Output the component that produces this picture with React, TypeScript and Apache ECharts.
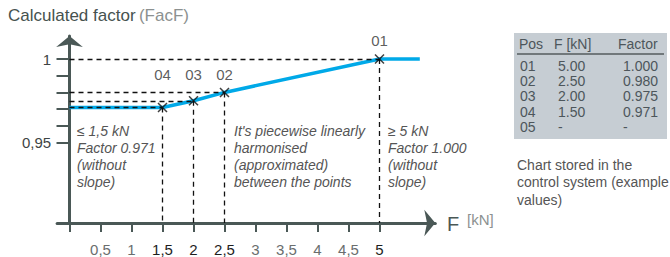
import React, { useEffect, useRef } from "react";
import * as echarts from "echarts";

// ---- data ----
const posNames = ["01", "02", "03", "04", "05"];
const forces = [5.0, 2.5, 2.0, 1.5]; // kN, for points 01..04
const factors = [1.0, 0.98, 0.975, 0.971];
const curveF = [0, 1.5, 2, 2.5, 5, 5.65];
const curveFactor = [0.971, 0.971, 0.975, 0.98, 1.0, 1.0];
const xTickValues = [0, 0.5, 1, 1.5, 2, 2.5, 3, 3.5, 4, 4.5, 5];
const xLabelValues = [0.5, 1, 1.5, 2, 2.5, 3, 3.5, 4, 4.5, 5];
const yTickValues = [0.95, 0.96, 0.97, 0.98, 0.99, 1.0];
const yLabelValues = [0.95, 1.0];
const labelDistances = [4, 3.5, 11.5, 18.5];

const AXIS = "#4a5856";
const FONT = "'Liberation Sans', Arial, sans-serif";
const Y_MIN = 0.9018;
const Y_MAX = 1.0138;

export default function App() {
  const ref = useRef<HTMLDivElement>(null);
  useEffect(() => {
    if (!ref.current) return;
    const chart = echarts.init(ref.current, null, { renderer: "svg" });
    const comma = (v: number) => String(v).replace(".", ",");

    const markData: any[] = [];
    forces.forEach((f, i) => {
      markData.push([{ coord: [0, factors[i]] }, { coord: [f, factors[i]] }]);
      markData.push([{ coord: [f, factors[i]] }, { coord: [f, Y_MIN] }]);
    });

    const tableRows = posNames.map((p, i) => ({
      pos: p,
      f: i < forces.length ? forces[i].toFixed(2) : "-",
      fac: i < factors.length ? factors[i].toFixed(3) : "-",
    }));

    const TABLE_TXT = "#4d565b";
    const tableTexts: any[] = [];
    tableRows.forEach((r, i) => {
      const top = 59 + i * 15.2;
      const st = { font: `14px ${FONT}`, fill: TABLE_TXT };
      tableTexts.push({ type: "text", left: 520, top, style: { ...st, text: r.pos } });
      tableTexts.push({ type: "text", left: 558, top, style: { ...st, text: r.f } });
      tableTexts.push({ type: "text", left: 623, top, style: { ...st, text: r.fac } });
    });

    const annStyle = { font: `italic 14px ${FONT}`, fill: "#555", lineHeight: 17 };

    chart.setOption({
      animation: false,
      grid: { left: 57.1, right: 234.7, top: 36, bottom: 34 },
      xAxis: {
        type: "value",
        min: -0.2,
        max: 5.9,
        splitLine: { show: false },
        axisLine: {
          show: true,
          onZero: false,
          symbol: ["none", "arrow"],
          symbolSize: [20, 11],
          lineStyle: { color: AXIS, width: 3 },
        },
        axisTick: {
          show: true,
          customValues: xTickValues,
          length: 9,
          lineStyle: { color: AXIS, width: 2 },
        },
        axisLabel: {
          customValues: xLabelValues,
          margin: 19,
          formatter: (v: number) =>
            forces.indexOf(v) >= 0 ? `{d|${comma(v)}}` : `{n|${comma(v)}}`,
          rich: {
            d: { fontSize: 15, fontFamily: FONT, color: "#1e1e1e" },
            n: { fontSize: 15, fontFamily: FONT, color: "#6a6e6e" },
          },
        },
      },
      yAxis: {
        type: "value",
        min: Y_MIN,
        max: Y_MAX,
        splitLine: { show: false },
        axisLine: {
          show: true,
          onZero: true,
          symbol: ["none", "arrow"],
          symbolSize: [20, 11],
          lineStyle: { color: AXIS, width: 3 },
        },
        axisTick: {
          show: true,
          customValues: yTickValues,
          length: 13,
          lineStyle: { color: AXIS, width: 2 },
        },
        axisLabel: {
          customValues: yLabelValues,
          margin: 6,
          fontSize: 15,
          fontFamily: FONT,
          color: "#3e4444",
          formatter: (v: number) => comma(v),
        },
      },
      graphic: [
        {
          type: "text",
          left: 8,
          top: 7,
          style: {
            text: "{a|Calculated factor} {b|(FacF)}",
            rich: {
              a: { fontSize: 17, fontFamily: FONT, fill: "#46524f" },
              b: { fontSize: 17, fontFamily: FONT, fill: "#8c9190" },
            },
          },
        },
        {
          type: "text",
          left: 447,
          top: 214,
          style: { text: "F", font: `20px ${FONT}`, fill: AXIS },
        },
        {
          type: "text",
          left: 467,
          top: 212,
          style: { text: "[kN]", font: `15px ${FONT}`, fill: "#8c9190" },
        },
        {
          type: "text",
          left: 77,
          top: 122,
          style: { ...annStyle, text: "≤ 1,5 kN\nFactor 0.971\n(without\nslope)" },
        },
        {
          type: "text",
          left: 234,
          top: 122,
          style: {
            ...annStyle,
            text: "It's piecewise linearly\nharmonised\n(approximated)\nbetween the points",
          },
        },
        {
          type: "text",
          left: 388,
          top: 122,
          style: { ...annStyle, text: "≥ 5 kN\nFactor 1.000\n(without\nslope)" },
        },
        {
          type: "rect",
          shape: { x: 514, y: 33, width: 153, height: 106 },
          style: { fill: "#c6cdd3" },
        },
        {
          type: "text",
          left: 519,
          top: 37,
          style: { text: "Pos", font: `14px ${FONT}`, fill: TABLE_TXT },
        },
        {
          type: "text",
          left: 554,
          top: 37,
          style: { text: "F [kN]", font: `14px ${FONT}`, fill: TABLE_TXT },
        },
        {
          type: "text",
          left: 618,
          top: 37,
          style: { text: "Factor", font: `14px ${FONT}`, fill: TABLE_TXT },
        },
        {
          type: "line",
          shape: { x1: 517, y1: 54, x2: 664, y2: 54 },
          style: { stroke: "#555b5e", lineWidth: 1.5 },
        },
        ...tableTexts,
        {
          type: "text",
          left: 517,
          top: 156,
          style: {
            text: "Chart stored in the\ncontrol system (example\nvalues)",
            font: `14px ${FONT}`,
            fill: "#555",
            lineHeight: 17.5,
          },
        },
      ],
      series: [
        {
          type: "line",
          data: [],
          z: 1,
          silent: true,
          markLine: {
            silent: true,
            symbol: ["none", "none"],
            label: { show: false },
            lineStyle: { type: [5, 4], color: "#111", width: 1.3 },
            data: markData,
          },
        },
        {
          type: "line",
          z: 3,
          data: curveF.map((f, i) => [f, curveFactor[i]]),
          symbol: "none",
          lineStyle: { color: "#00a9e8", width: 3.5 },
        },
        {
          type: "scatter",
          z: 5,
          symbol: "path://M0,0L10,10M10,0L0,10",
          symbolSize: 9,
          itemStyle: { color: "none", borderColor: "#111", borderWidth: 1.5 },
          data: forces.map((f, i) => ({
            value: [f, factors[i]],
            name: posNames[i],
            label: {
              show: true,
              position: "top",
              distance: labelDistances[i],
              formatter: posNames[i],
              fontSize: 15,
              fontFamily: FONT,
              color: "#333",
            },
          })),
        },
      ],
    });
    return () => chart.dispose();
  }, []);
  return (
    <div
      ref={ref}
      style={{ position: "absolute", left: 0, top: 0, width: 670, height: 257, background: "#fff" }}
    />
  );
}
